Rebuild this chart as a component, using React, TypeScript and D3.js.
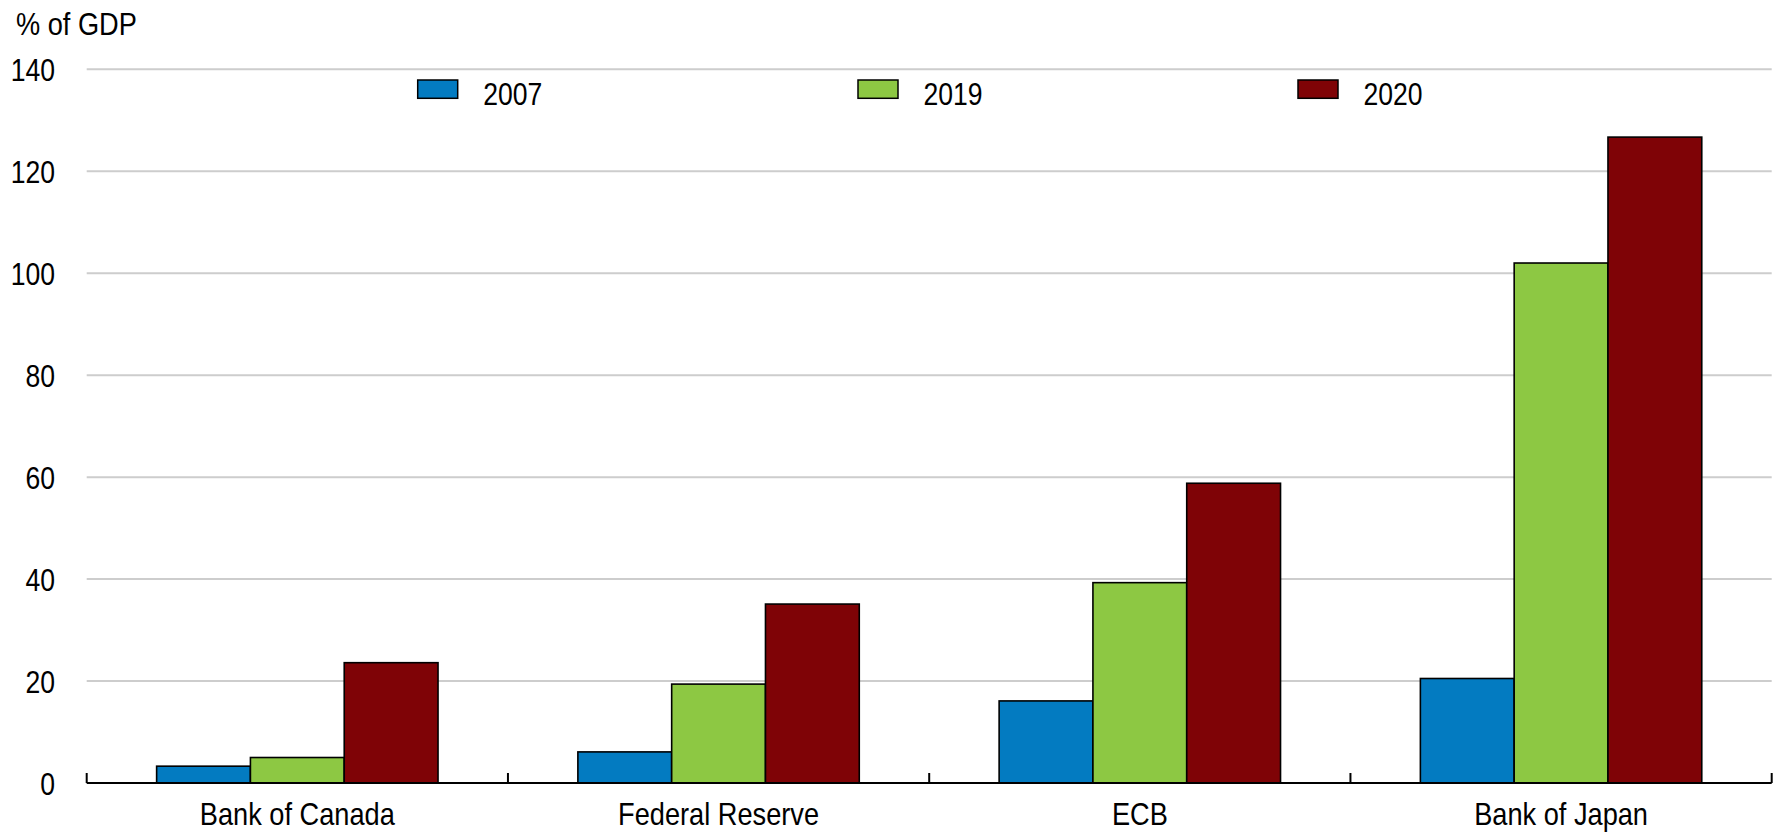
import React from "react";
import * as d3 from "d3";

const categories = ["Bank of Canada", "Federal Reserve", "ECB", "Bank of Japan"];
const seriesNames = ["2007", "2019", "2020"];
const values2007 = [3.3, 6.1, 16.1, 20.5];
const values2019 = [5.0, 19.4, 39.3, 102.0];
const values2020 = [23.6, 35.1, 58.8, 126.7];
const yTicks = [0, 20, 40, 60, 80, 100, 120, 140];
const colors = ["#037BC1", "#8DC843", "#7F0306"];

const W = 1779;
const H = 832;
const left = 86.7;
const right = 1771.7;
const y0 = 783;
const yTop = 69.3;
const FONT = "'Liberation Sans', Arial, sans-serif";
const SX = 0.83;

export default function App() {
  const series = [values2007, values2019, values2020];
  const x = d3.scaleBand<string>().domain(categories).range([left, right]).paddingInner(0).paddingOuter(0);
  const bw = x.bandwidth();
  const pad = bw * 0.166;
  const x1 = d3.scaleBand<string>().domain(seriesNames).range([pad, bw - pad]).padding(0);
  const y = d3.scaleLinear().domain([0, 140]).range([y0, yTop]);

  const legendX = [417.7, 858, 1298];

  return (
    <svg width={W} height={H} style={{ position: "fixed", left: 0, top: 0, background: "#fff" }} fontFamily={FONT}>
      <rect x={0} y={0} width={W} height={H} fill="#fff" />
      {/* gridlines */}
      {yTicks.filter((t) => t > 0).map((t) => (
        <line key={t} x1={left} x2={right} y1={y(t)} y2={y(t)} stroke="#CDCDCD" strokeWidth={2} />
      ))}
      {/* y tick labels */}
      {yTicks.map((t) => (
        <text key={t} transform={`translate(55,${y(t) + 11.5}) scale(${SX},1)`} textAnchor="end" fontSize={32} fill="#000">
          {t}
        </text>
      ))}
      <text transform={`translate(16,35) scale(${SX + 0.02},1)`} fontSize={32} fill="#000">% of GDP</text>
      {/* bars */}
      {categories.map((c, i) => (
        <g key={c}>
          {seriesNames.map((s, j) => {
            const v = series[j][i];
            const bx = (x(c) as number) + (x1(s) as number);
            return (
              <rect key={s} x={bx} y={y(v)} width={x1.bandwidth()} height={y0 - y(v)} fill={colors[j]} stroke="#000" strokeWidth={1.6} />
            );
          })}
        </g>
      ))}
      {/* x axis */}
      <line x1={left} x2={right} y1={y0} y2={y0} stroke="#000" strokeWidth={2.2} />
      {[...categories.map((c) => x(c) as number), right].map((tx, i) => (
        <line key={i} x1={tx} x2={tx} y1={y0} y2={y0 - 10} stroke="#000" strokeWidth={2} />
      ))}
      {categories.map((c) => (
        <text key={c} transform={`translate(${(x(c) as number) + bw / 2},825) scale(${SX + 0.02},1)`} textAnchor="middle" fontSize={32} fill="#000">
          {c}
        </text>
      ))}
      {/* legend */}
      {seriesNames.map((s, j) => (
        <g key={s}>
          <rect x={legendX[j]} y={80} width={40} height={18.3} fill={colors[j]} stroke="#000" strokeWidth={1.5} />
          <text transform={`translate(${legendX[j] + 65.5},105) scale(${SX},1)`} fontSize={32} fill="#000">{s}</text>
        </g>
      ))}
    </svg>
  );
}
